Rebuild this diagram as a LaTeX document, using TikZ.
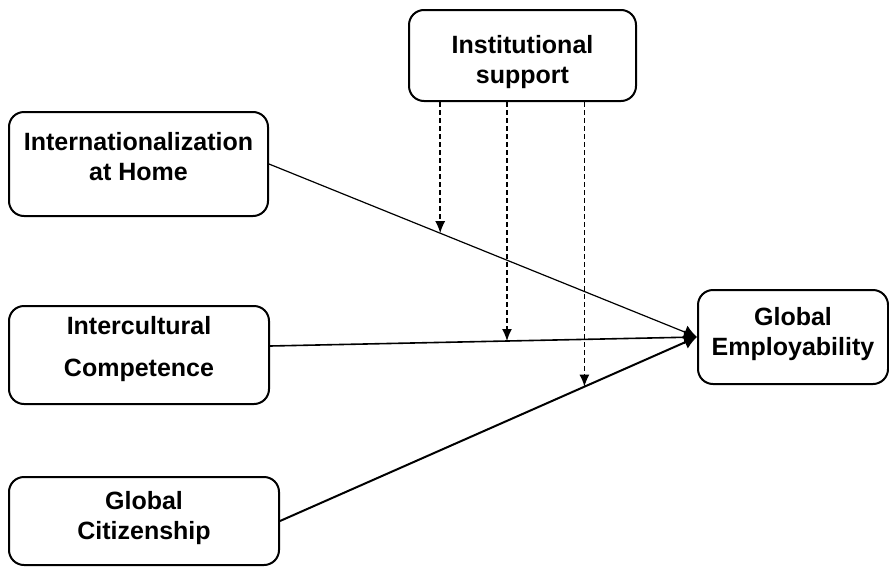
\documentclass[tikz,border=0pt]{standalone}
\usepackage{fontspec}
\setmainfont{Liberation Sans}
\usetikzlibrary{arrows.meta,positioning,calc}

% text of a box, moved up or down inside it (3.125pt = math axis)
\newcommand{\boxtext}[2]{\raisebox{\dimexpr#1-3.125pt\relax}[0pt][0pt]{\begin{tabular}{@{}c@{}}#2\end{tabular}}}

\begin{document}
\begin{tikzpicture}[x=0.5pt, y=-0.5pt, >={Latex[length=6.5pt,width=7pt]}, thick]

        \tikzstyle{block} = [draw, rectangle, rounded corners=7.5pt, line width=1pt, align=center, font=\bfseries\fontsize{12.5}{15}\selectfont]
        \tikzstyle{link} = [line width=0.8pt]
        \tikzstyle{moder} = [line width=0.75pt, dash pattern=on 2.5pt off 1.5pt, -{Latex[length=6pt,width=5pt]}]

        \useasboundingbox (0,0) rectangle (889,568);

        \node [block, minimum width=113.5pt, minimum height=45.5pt] (IS) at (522.5,55.5) {\boxtext{-3.5pt}{Institutional\\support}};

        \node [block, minimum width=129.5pt, minimum height=52pt] (IH) at (138.5,164) {\boxtext{2.5pt}{Internationalization\\at Home}};
        
        \node [block, minimum width=130pt, minimum height=49pt, font=\bfseries\fontsize{12.5}{21}\selectfont] (IC) at (139,355) {\boxtext{4pt}{Intercultural\\Competence}};
        
        \node [block, minimum width=135pt, minimum height=44pt] (GC) at (144,521) {\boxtext{1.5pt}{Global\\Citizenship}};

        \node [block, minimum width=95pt, minimum height=47pt] (GE) at (793,337) {\boxtext{1.5pt}{Global\\Employability}};

        % direct paths
        \draw [->, line width=0.6pt] (IH.east) -- coordinate[pos=0.4] (m1) (GE.west);
        \draw [->, link] ([yshift=4.5pt]IC.east) -- coordinate[pos=0.555] (m2) (GE.west);
        \draw [->, line width=1pt] (GC.east) -- coordinate[pos=0.73] (m3) (GE.west);

        % moderation
        \draw [moder] (m1 |- IS.south) -- (m1);
        \draw [moder] (m2 |- IS.south) -- (m2);
        \draw [moder] (m3 |- IS.south) -- (m3);
    
    \end{tikzpicture}
\end{document}
